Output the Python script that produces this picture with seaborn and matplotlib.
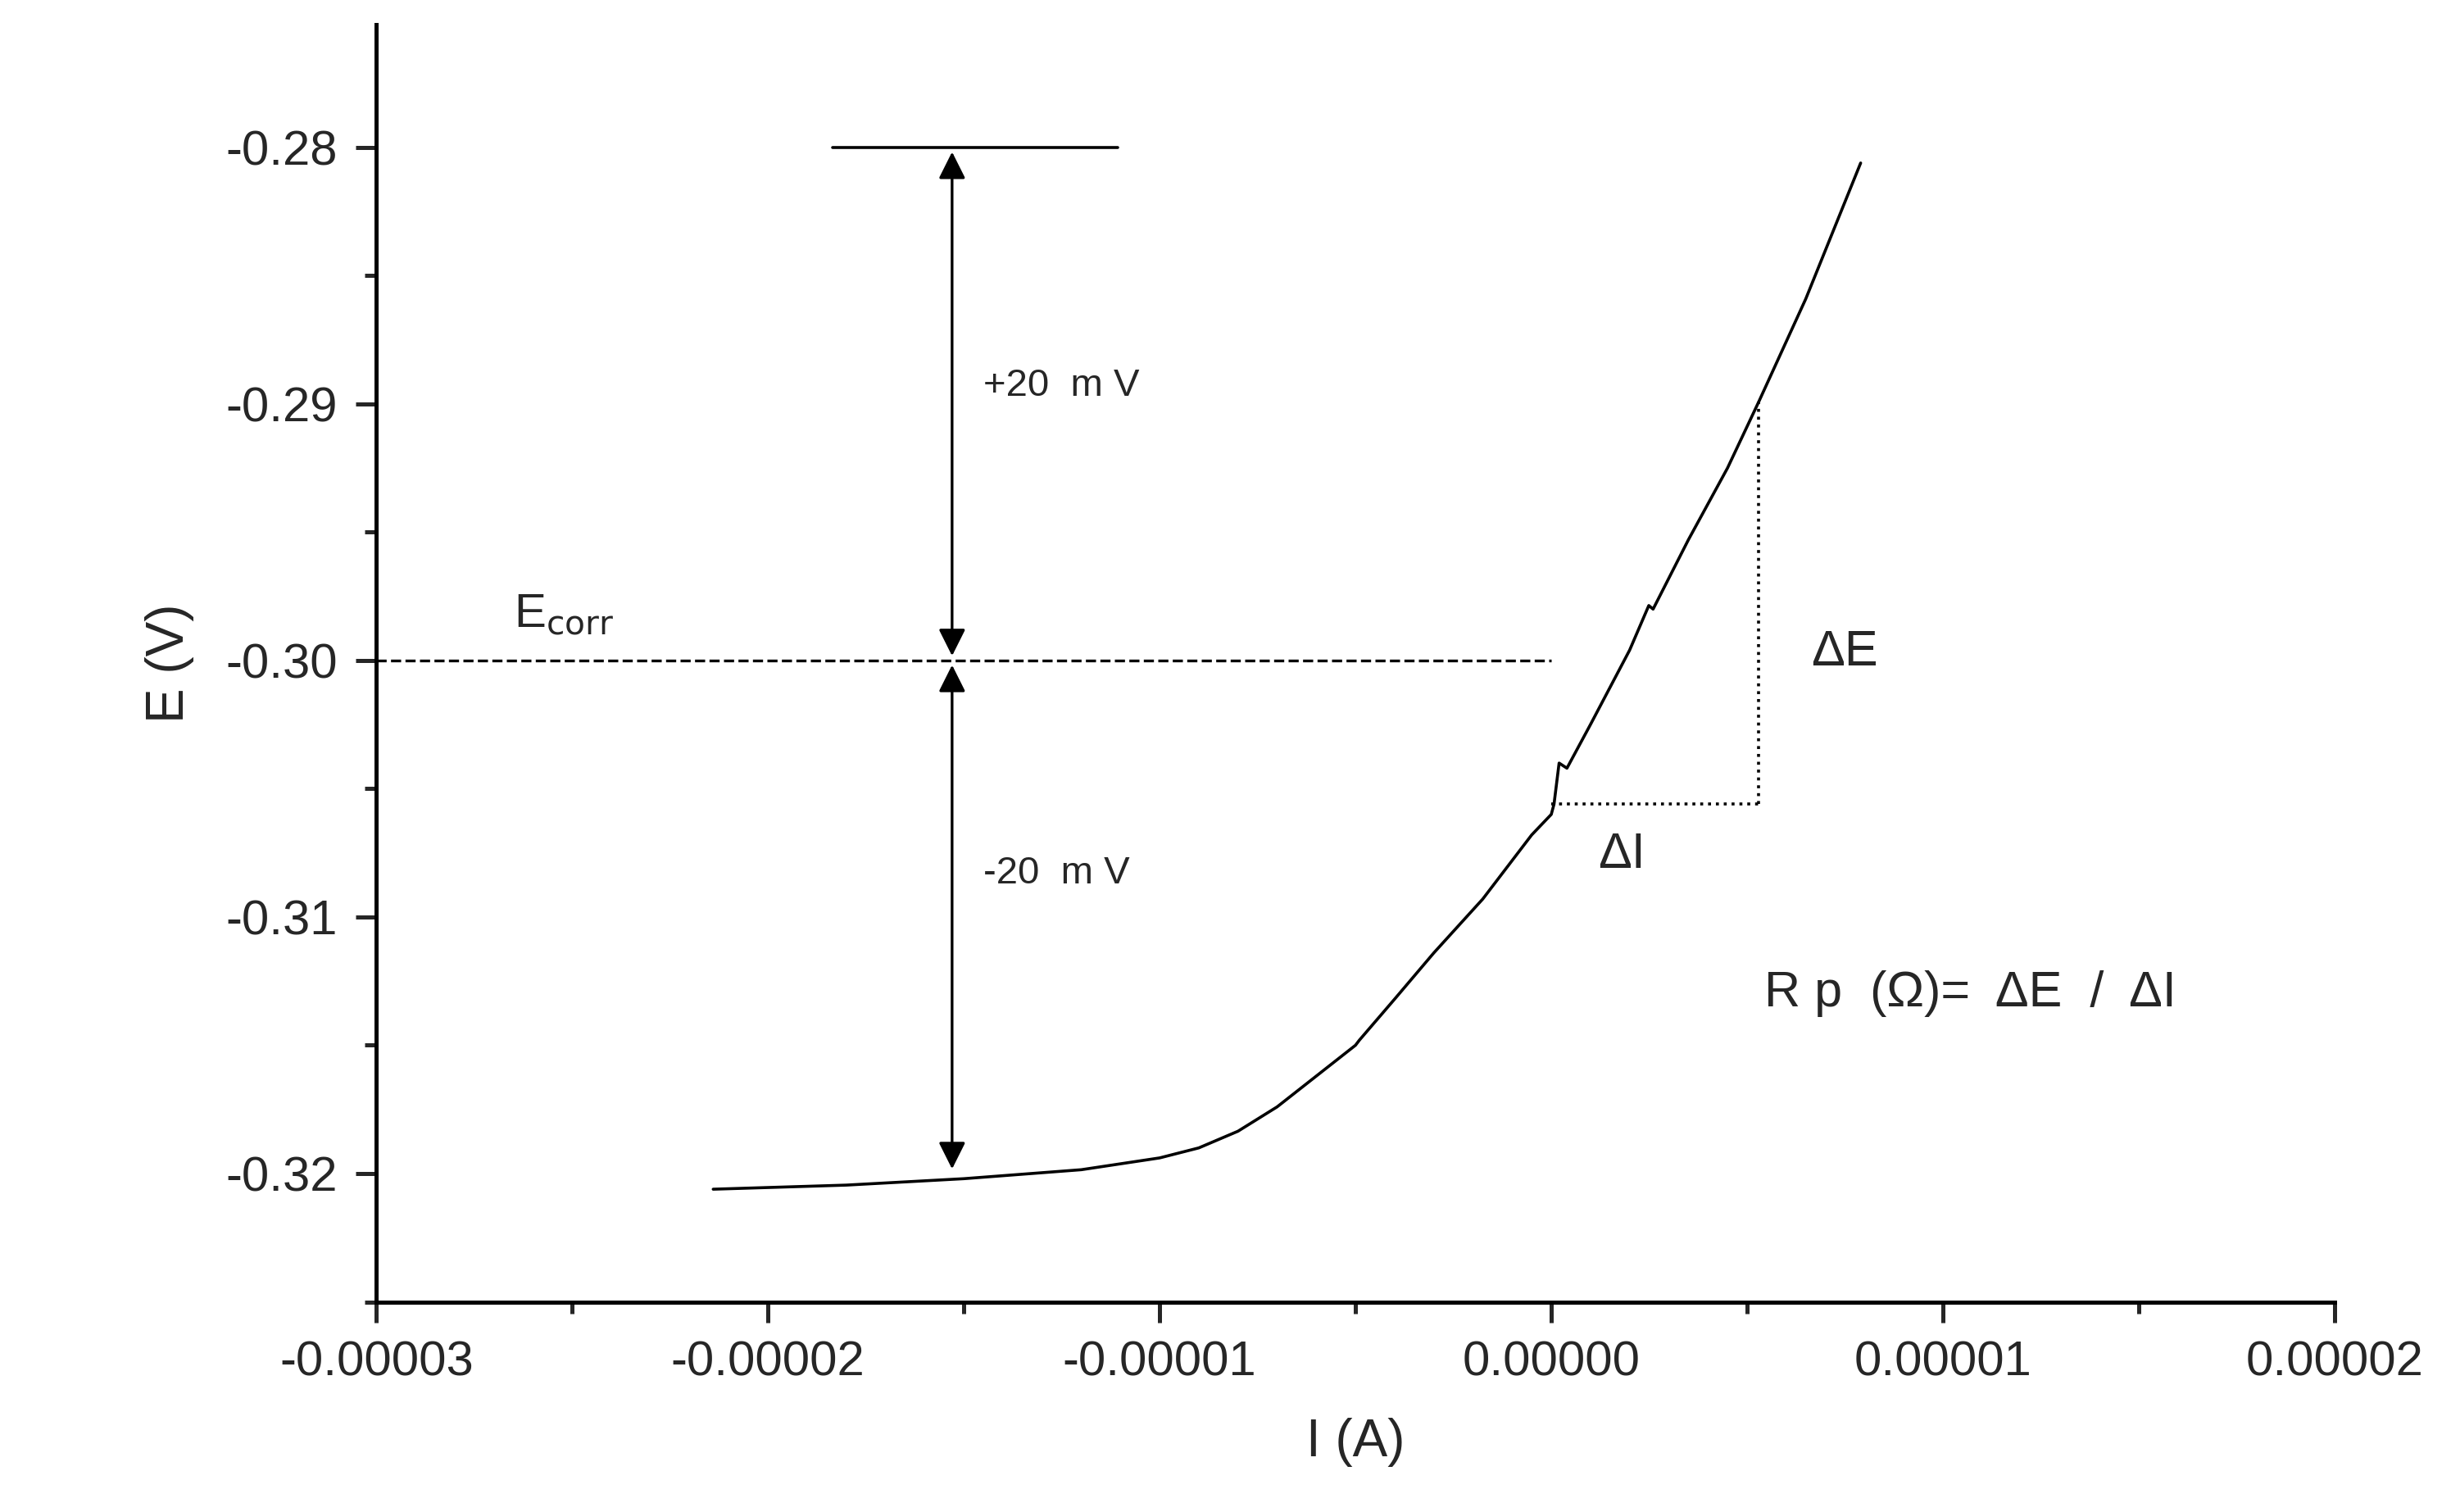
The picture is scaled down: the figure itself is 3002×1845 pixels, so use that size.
import numpy as np
import pandas as pd
import matplotlib
matplotlib.use("Agg")
import matplotlib.pyplot as plt
import seaborn as sns
from matplotlib.ticker import MultipleLocator, FormatStrFormatter

sns.set_style("white")
plt.rcParams['font.family'] = ['Liberation Sans', 'DejaVu Sans']

current = [-2.14e-5, -1.8e-5, -1.5e-5, -1.2e-5, -1.0e-5, -0.9e-5, -0.8e-5, -0.7e-5, -0.6e-5, -0.5e-5, -0.49e-5,
           -0.4e-5, -0.3e-5, -0.175e-5, -0.1e-5, -0.05e-5, 0.0, 0.007e-5, 0.02e-5, 0.04e-5, 0.1e-5, 0.2e-5, 0.249e-5,
           0.26e-5, 0.35e-5, 0.45e-5, 0.53e-5, 0.65e-5, 0.79e-5]
potential = [-0.32061, -0.32045, -0.32020, -0.31985, -0.31939, -0.31900, -0.31835, -0.31740, -0.31620, -0.31500, -0.31480,
             -0.31320, -0.31140, -0.30930, -0.30780, -0.30680, -0.30600, -0.30560, -0.30400, -0.30420, -0.30250, -0.29960, -0.29786,
             -0.29800, -0.29530, -0.29250, -0.28991, -0.28590, -0.28061]
df = pd.DataFrame({"I": current, "E": potential})

fig = plt.figure(figsize=(15.01, 9.225), dpi=200)
ax = fig.add_axes([0.153, 0.139, 0.796, 0.845])
sns.lineplot(data=df, x="I", y="E", ax=ax, color="black", linewidth=1.3, sort=False)

ax.set_xlim(-3e-5, 2e-5)
ax.set_ylim(-0.325, -0.2752)
ax.xaxis.set_major_locator(MultipleLocator(1e-5))
ax.xaxis.set_minor_locator(MultipleLocator(0.5e-5))
ax.yaxis.set_major_locator(MultipleLocator(0.01))
ax.yaxis.set_minor_locator(MultipleLocator(0.005))
ax.xaxis.set_major_formatter(FormatStrFormatter('%.5f'))
ax.yaxis.set_major_formatter(FormatStrFormatter('%.2f'))
for s in ["top", "right"]:
    ax.spines[s].set_visible(False)
for s in ["left", "bottom"]:
    ax.spines[s].set_linewidth(1.8)
    ax.spines[s].set_color("black")
ax.tick_params(which="major", direction="out", length=9, width=1.8, labelsize=21.5, pad=8)
ax.tick_params(which="minor", direction="out", length=5, width=1.8)
ax.tick_params(axis="both", which="both", left=True, bottom=True)
ax.set_xlabel("I (A)", fontsize=23, labelpad=14)
ax.set_ylabel("E (V)", fontsize=23, labelpad=14)

# annotations
ax.plot([-3e-5, 0], [-0.30, -0.30], ls="--", color="black", lw=1.2)
ax.plot([0, 0.53e-5], [-0.3056, -0.3056], ls=":", color="black", lw=1.3)
ax.plot([0.53e-5, 0.53e-5], [-0.3056, -0.2899], ls=":", color="black", lw=1.3)
ax.plot([-1.836e-5, -1.108e-5], [-0.28, -0.28], color="black", lw=1.3)
for y0, y1 in [(-0.28, -0.30), (-0.30, -0.32)]:
    ax.annotate("", xy=(-1.53e-5, y0), xytext=(-1.53e-5, y1),
                arrowprops=dict(arrowstyle="<|-|>", color="black", lw=1.2, mutation_scale=25))
ax.text(-1.45e-5, -0.2893, "+20  m V", fontsize=17, va="center")
ax.text(-1.45e-5, -0.3083, "-20  m V", fontsize=17, va="center")
ax.text(-2.65e-5, -0.2982, r"E$_{\mathrm{corr}}$", fontsize=21, va="center")
ax.text(0.663e-5, -0.2997, "ΔE", fontsize=22, va="center")
ax.text(0.12e-5, -0.3076, "ΔI", fontsize=22, va="center")
ax.text(0.543e-5, -0.3130, "R p  (Ω)=  ΔE  /  ΔI", fontsize=22, va="center")

fig.savefig("out.png", dpi=200)
